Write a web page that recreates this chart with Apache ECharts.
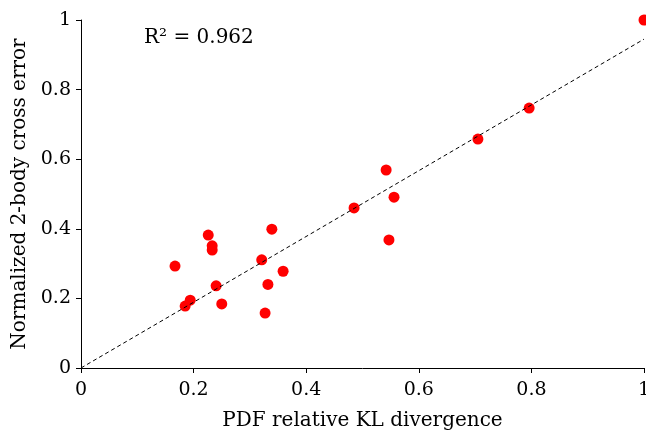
<!DOCTYPE html>
<html><head><meta charset="utf-8">
<script src="https://cdn.jsdelivr.net/npm/echarts@6/dist/echarts.min.js"></script>
<style>html,body{margin:0;padding:0;background:#fff}#c{width:646px;height:431px}</style>
</head><body><div id="c"></div>
<script>
const xVals = [1.0, 0.796, 0.705, 0.542, 0.556, 0.485, 0.547, 0.339, 0.226, 0.233, 0.233, 0.321, 0.167, 0.359, 0.332, 0.240, 0.194, 0.185, 0.250, 0.327];
const yVals = [1.0, 0.747, 0.658, 0.569, 0.491, 0.460, 0.368, 0.399, 0.382, 0.351, 0.339, 0.311, 0.293, 0.278, 0.240, 0.236, 0.195, 0.178, 0.184, 0.158];
const fitX = [0, 1];
const fitY = [0, 0.945];
const tickVals = [0, 0.2, 0.4, 0.6, 0.8, 1];
const annotation = 'R² = 0.962';
const xName = 'PDF relative KL divergence';
const yName = 'Normalized 2-body cross error';

const font = 'DejaVu Serif';
const chart = echarts.init(document.getElementById('c'));
const axisCommon = {
  type: 'value', min: 0, max: 1, interval: 0.2,
  nameLocation: 'middle',
  nameTextStyle: {fontFamily: font, fontSize: 20, color: '#000'},
  axisLine: {show: true, lineStyle: {color: '#000', width: 1}},
  axisTick: {show: true, length: 5, lineStyle: {color: '#000'}},
  axisLabel: {fontFamily: font, fontSize: 19, color: '#000', margin: 10,
    formatter: v => String(+v.toFixed(2))},
  splitLine: {show: false}
};
chart.setOption({
  animation: false,
  grid: {left: 81, right: 2, top: 20, bottom: 63, outerBoundsMode: 'none', containLabel: false},
  xAxis: Object.assign({}, axisCommon, {name: xName, nameGap: 43,
    axisLabel: Object.assign({}, axisCommon.axisLabel, {margin: 13})}),
  yAxis: Object.assign({}, axisCommon, {name: yName, nameGap: 51}),
  graphic: [{type: 'text', left: 144, top: 28, style: {text: annotation, fontFamily: font, fontSize: 20, fill: '#000'}}],
  series: [
    {type: 'line', data: fitX.map((x, i) => [x, fitY[i]]), symbol: 'none',
      lineStyle: {color: '#000', width: 1, type: [4, 3]}, silent: true},
    {type: 'scatter', data: xVals.map((x, i) => [x, yVals[i]]), symbolSize: 11,
      itemStyle: {color: '#ff0000', opacity: 1}, clip: false}
  ]
});
</script></body></html>
